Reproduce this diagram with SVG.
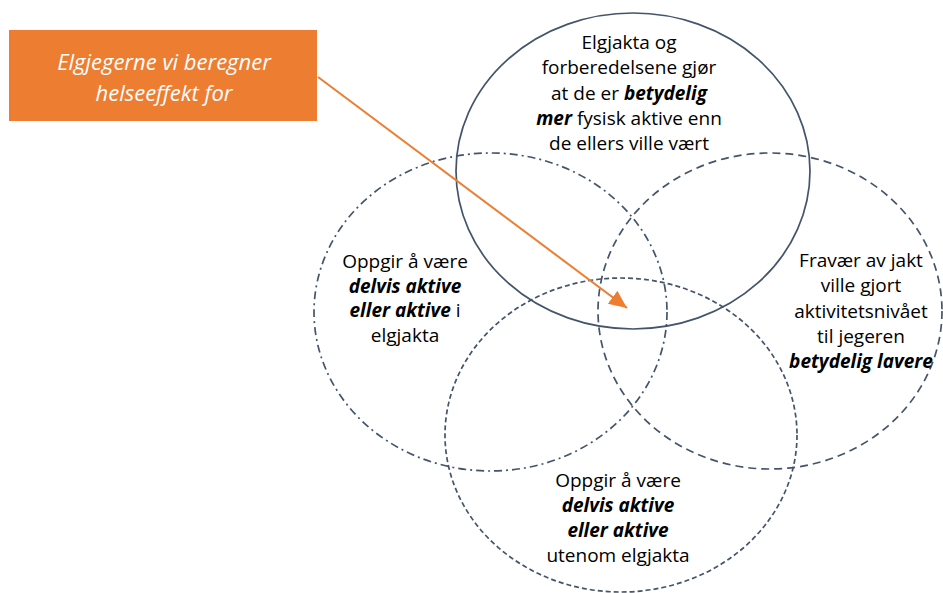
<svg xmlns="http://www.w3.org/2000/svg" width="943" height="593" viewBox="0 0 943 593">
<style>
.c{fill:none;stroke:#44546A;stroke-width:1.7}
.t{font-family:"Open Sans","Noto Sans",sans-serif;font-size:19px;fill:#000;text-anchor:middle}
.b{font-weight:bold;font-style:italic}
.o{font-family:"Open Sans","Noto Sans",sans-serif;font-size:22px;font-style:italic;fill:#fff;text-anchor:middle}
</style>
<defs>
<marker id="ah" markerUnits="userSpaceOnUse" markerWidth="20" markerHeight="20" refX="18" refY="8" orient="auto">
<path d="M0,0 L18,8 L0,16 Z" fill="#ED7D31"/>
</marker>
</defs>
<rect width="943" height="593" fill="#fff"/>
<g id="top">
<ellipse class="c" cx="633" cy="171" rx="177" ry="158"/>
<text class="t" x="629" y="49">Elgjakta og</text>
<text class="t" x="629" y="74">forberedelsene gjør</text>
<text class="t" x="629" y="100">at de er <tspan class="b">betydelig</tspan></text>
<text class="t" x="629" y="125"><tspan class="b">mer</tspan> fysisk aktive enn</text>
<text class="t" x="629" y="150">de ellers ville vært</text>
</g>
<g id="left">
<ellipse class="c" cx="490.5" cy="312" rx="176.5" ry="159" stroke-dasharray="8 4 2 4"/>
<text class="t" x="405" y="268">Oppgir å være</text>
<text class="t b" x="405" y="293">delvis aktive</text>
<text class="t" x="405" y="317"><tspan class="b">eller aktive</tspan> i</text>
<text class="t" x="405" y="342">elgjakta</text>
</g>
<g id="right">
<ellipse class="c" cx="770" cy="311" rx="172" ry="158" stroke-dasharray="8 5"/>
<text class="t" x="861" y="267">Fravær av jakt</text>
<text class="t" x="861" y="292">ville gjort</text>
<text class="t" x="861" y="318">aktivitetsnivået</text>
<text class="t" x="861" y="343">til jegeren</text>
<text class="t b" x="861" y="368">betydelig lavere</text>
</g>
<g id="bottom">
<ellipse class="c" cx="621" cy="435" rx="176" ry="157" stroke-dasharray="5 3"/>
<text class="t" x="618" y="487">Oppgir å være</text>
<text class="t b" x="618" y="512">delvis aktive</text>
<text class="t b" x="618" y="537">eller aktive</text>
<text class="t" x="618" y="562">utenom elgjakta</text>
</g>
<g id="label">
<rect x="9" y="30" width="308" height="91" fill="#ED7D31"/>
<text class="o" x="164" y="70">Elgjegerne vi beregner</text>
<text class="o" x="164" y="101">helseeffekt for</text>
</g>
<g id="connectors">
<line x1="318" y1="77" x2="627" y2="308" stroke="#ED7D31" stroke-width="2" marker-end="url(#ah)"/>
</g>
</svg>
